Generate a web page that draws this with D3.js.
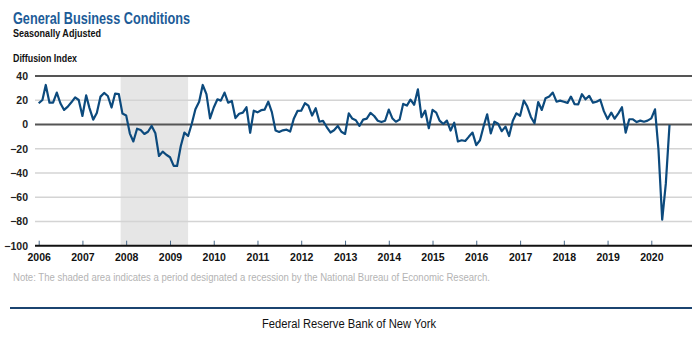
<!DOCTYPE html>
<html>
<head>
<meta charset="utf-8">
<script src="https://cdn.jsdelivr.net/npm/d3@7"></script>
<style>
  body { margin: 0; background: #fff; }
  svg { display: block; }
  text { font-family: 'Liberation Sans Narrow', 'Arial Narrow', 'Liberation Sans', sans-serif; }
</style>
</head>
<body>
<div class="chart"></div>
<script>
// monthly values, Jan 2006 .. Jun 2020
const v2006 = [17.5, 20.2, 32.6, 18, 18, 26.3, 17.5, 12, 14.7, 18.3, 22.4, 20.2];
const v2007 = [7, 24, 13.5, 4, 9.5, 23, 26, 23.5, 14, 25.5, 25, 9];
const v2008 = [7.5, -7.5, -14, -3.5, -4.5, -7.8, -6, -1.2, -7.3, -26, -22.4, -25];
const v2009 = [-27, -34.2, -34.2, -17.7, -6.7, -9.5, 0.4, 12.5, 18.8, 32.6, 25, 5];
const v2010 = [14, 20.8, 19.7, 26.3, 18, 19.4, 5.3, 8.8, 9.8, 14.2, -6.8, 11.4];
const v2011 = [10, 11.8, 12.2, 18.8, 10.2, -5, -6.2, -4.8, -4.3, -5.8, 5, 11.2];
const v2012 = [11.4, 17.5, 15.5, 7.4, 13.4, 2.3, 3, -2.1, -6.6, -4.8, -1.2, -6];
const v2013 = [-7.8, 9.2, 5, 3.5, -1.2, 4, 4.8, 9.5, 7, 3.1, 2, 3.1];
const v2014 = [12.3, 4.9, 2.3, 4, 17, 15.6, 20.5, 16.3, 29, 6, 11.4, -3.1];
const v2015 = [12, 9.8, 3.2, 0.4, 3.2, -5, 1.5, -14, -13, -13.6, -10, -6.7];
const v2016 = [-17, -13, -2, 8.4, -7.3, 2.3, 0.6, -5.5, -1.8, -9.5, 3, 9.2];
const v2017 = [7.2, 19.7, 15, 6.2, 1, 18.5, 12, 21.6, 23, 26.3, 18.8, 19.7];
const v2018 = [18.8, 17.8, 23, 16.7, 16.6, 25, 20.8, 23.6, 18, 18.8, 20.4, 11];
const v2019 = [4.5, 9.8, 4.8, 9.2, 14.2, -6.7, 4.3, 4.3, 2, 3.2, 2.3, 3.2];
const v2020 = [5, 12.5, -21, -78.5, -49, -0.3];

const years = [2006, 2007, 2008, 2009, 2010, 2011, 2012, 2013, 2014, 2015, 2016, 2017, 2018, 2019, 2020];
const yTicks = [-100, -80, -60, -40, -20, 0, 20, 40];
const recession = ['2007-12', '2009-06'];

const values = [].concat(v2006, v2007, v2008, v2009, v2010, v2011, v2012, v2013,
                         v2014, v2015, v2016, v2017, v2018, v2019, v2020);
const data = values.map((v, i) => ({ date: new Date(2006, i, 1), value: v }));

const w = 700;
const h = 339;
const left = 35, right = 692;

const svg = d3.select('.chart')
                .append('svg')
                .attr('width', w)
                .attr('height', h);

const x = d3.scaleTime()
            .domain([new Date(2006, 0, 1), new Date(2020, 0, 1)])
            .range([38.7, 651.3]);

const y = d3.scaleLinear()
            .domain([-100, 40])
            .range([245.7, 76]);

// titles
svg.append('text')
    .attr('x', 13).attr('y', 24)
    .attr('font-size', 16.5)
    .attr('font-weight', 'bold')
    .attr('fill', '#1d5c98')
    .attr('textLength', 177).attr('lengthAdjust', 'spacingAndGlyphs')
    .text('General Business Conditions');

svg.append('text')
    .attr('x', 13).attr('y', 36.5)
    .attr('font-size', 11)
    .attr('font-weight', 'bold')
    .attr('fill', '#111')
    .attr('textLength', 88).attr('lengthAdjust', 'spacingAndGlyphs')
    .text('Seasonally Adjusted');

svg.append('text')
    .attr('x', 13).attr('y', 62)
    .attr('font-size', 11)
    .attr('font-weight', 'bold')
    .attr('fill', '#111')
    .attr('textLength', 64).attr('lengthAdjust', 'spacingAndGlyphs')
    .text('Diffusion Index');

// recession shading
const recStart = d3.timeDay.offset(new Date(+recession[0].slice(0, 4), +recession[0].slice(5) - 1, 1), -15);
const recEnd = new Date(+recession[1].slice(0, 4), +recession[1].slice(5) - 1, 1);
svg.append('rect')
    .attr('x', x(recStart))
    .attr('y', y(40))
    .attr('width', x(recEnd) - x(recStart))
    .attr('height', y(-100) - y(40))
    .attr('fill', '#e6e6e6');

// grid lines
svg.append('g')
    .selectAll('line')
    .data(yTicks.filter(d => d !== -100))
    .enter()
    .append('line')
    .attr('x1', left).attr('x2', right)
    .attr('y1', d => y(d)).attr('y2', d => y(d))
    .attr('stroke', d => (d === 0 || d === 40) ? '#555' : '#d4d4d4')
    .attr('stroke-width', d => (d === 0 || d === 40) ? 1.8 : 1.4);

// y labels
const yAxis = d3.axisLeft(y).tickValues(yTicks).tickSize(0).tickPadding(0);
const gy = svg.append('g')
    .attr('transform', 'translate(28,0)')
    .call(yAxis);
gy.select('.domain').remove();
gy.selectAll('text')
    .attr('font-family', null)
    .attr('font-size', 10.5)
    .attr('font-weight', 'bold')
    .attr('fill', '#222');

// x axis
const xAxis = d3.axisBottom(x)
                .tickValues(years.map(yr => new Date(yr, 0, 1)))
                .tickFormat(d3.timeFormat('%Y'))
                .tickSize(0)
                .tickPadding(8);
const gx = svg.append('g')
    .attr('transform', 'translate(0,' + y(-100) + ')')
    .call(xAxis);
gx.select('.domain').remove();
gx.selectAll('text')
    .attr('font-family', null)
    .attr('font-size', 10.5)
    .attr('font-weight', 'bold')
    .attr('fill', '#111');
gx.selectAll('.tick')
    .append('line')
    .attr('y1', -5).attr('y2', 0)
    .attr('stroke', '#4a6a8a')
    .attr('stroke-width', 1);

svg.append('line')
    .attr('x1', left).attr('x2', right)
    .attr('y1', y(-100)).attr('y2', y(-100))
    .attr('stroke', '#111')
    .attr('stroke-width', 2);

// data line
const line = d3.line()
               .x(d => x(d.date))
               .y(d => y(d.value));

svg.append('path')
    .datum(data)
    .attr('d', line)
    .attr('fill', 'none')
    .attr('stroke', '#0c4a7d')
    .attr('stroke-width', 2.2)
    .attr('stroke-linejoin', 'round');

// note and footer
svg.append('text')
    .attr('x', 13).attr('y', 281)
    .attr('font-size', 11)
    .attr('fill', '#b4b4b4')
    .attr('textLength', 477).attr('lengthAdjust', 'spacingAndGlyphs')
    .text('Note: The shaded area indicates a period designated a recession by the National Bureau of Economic Research.');

svg.append('line')
    .attr('x1', 10).attr('x2', 692)
    .attr('y1', 308).attr('y2', 308)
    .attr('stroke', '#1b4470')
    .attr('stroke-width', 2);

svg.append('text')
    .attr('x', 349).attr('y', 328)
    .attr('text-anchor', 'middle')
    .attr('font-size', 12)
    .attr('fill', '#111')
    .attr('textLength', 174).attr('lengthAdjust', 'spacingAndGlyphs')
    .text('Federal Reserve Bank of New York');
</script>
</body>
</html>
